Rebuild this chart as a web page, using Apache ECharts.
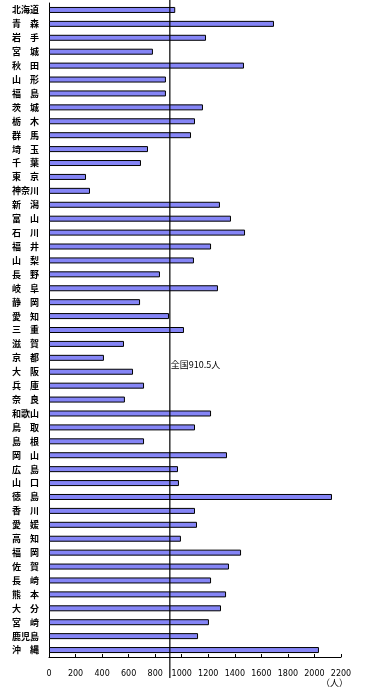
<!DOCTYPE html>
<html>
<head>
<meta charset="utf-8">
<script src="https://cdn.jsdelivr.net/npm/echarts@6/dist/echarts.min.js"></script>
<style>
  html, body { margin: 0; padding: 0; background: #fff; }
  #bar1 { width: 377px; height: 695px; }
</style>
</head>
<body>
<div id="bar1"></div>
<script>
  var prefs = ['北海道', '青　森', '岩　手', '宮　城', '秋　田', '山　形', '福　島', '茨　城', '栃　木', '群　馬',
    '埼　玉', '千　葉', '東　京', '神奈川', '新　潟', '富　山', '石　川', '福　井', '山　梨', '長　野',
    '岐　阜', '静　岡', '愛　知', '三　重', '滋　賀', '京　都', '大　阪', '兵　庫', '奈　良', '和歌山',
    '鳥　取', '島　根', '岡　山', '広　島', '山　口', '徳　島', '香　川', '愛　媛', '高　知', '福　岡',
    '佐　賀', '長　崎', '熊　本', '大　分', '宮　崎', '鹿児島', '沖　縄'];
  var people = [951, 1695, 1183, 783, 1469, 881, 881, 1160, 1100, 1070,
    746, 693, 279, 309, 1288, 1371, 1477, 1221, 1092, 836,
    1273, 686, 904, 1017, 565, 414, 633, 716, 572, 1221,
    1100, 716, 1341, 972, 979, 2132, 1100, 1115, 994, 1447,
    1356, 1221, 1334, 1296, 1205, 1123, 2034];
  var national = 910.5;
  var xTicks = [0, 200, 400, 600, 800, 1000, 1200, 1400, 1600, 1800, 2000, 2200];

  var bar1 = document.getElementById('bar1');
  var Chart_bar1 = echarts.init(bar1);
  var bar1_option;

  bar1_option = {
    animation: false,
    grid: {
      left: 49,
      right: 36,
      top: 3,
      bottom: 38
    },
    xAxis: {
      type: 'value',
      min: xTicks[0],
      max: xTicks[xTicks.length - 1],
      interval: 200,
      splitLine: { show: false },
      axisLine: { show: true, lineStyle: { color: '#000', width: 1 } },
      axisTick: { show: true, inside: true, length: 3, lineStyle: { color: '#000' } },
      axisLabel: {
        color: '#000',
        fontSize: 8,
        fontFamily: 'DejaVu Sans',
        margin: 13,
        formatter: function (v) { return String(v); }
      }
    },
    yAxis: {
      type: 'category',
      inverse: true,
      data: prefs,
      axisLine: { show: true, lineStyle: { color: '#000', width: 1 } },
      axisTick: { show: false },
      axisLabel: {
        color: '#000',
        fontSize: 9,
        fontWeight: 'bold',
        fontFamily: 'Noto Sans CJK JP',
        margin: 10,
        interval: 0
      }
    },
    series: [
      {
        type: 'bar',
        data: people,
        barWidth: 6,
        itemStyle: {
          color: '#8585f6',
          borderColor: '#000',
          borderWidth: 1
        }
      }
    ]
  };

  bar1_option && Chart_bar1.setOption(bar1_option);

  // 全国の線と注記
  var lineX = Chart_bar1.convertToPixel({ xAxisIndex: 0 }, national);
  var labelY = (Chart_bar1.convertToPixel({ yAxisIndex: 0 }, prefs[25]) +
    Chart_bar1.convertToPixel({ yAxisIndex: 0 }, prefs[26])) / 2;
  Chart_bar1.setOption({
    graphic: [
      {
        type: 'line',
        shape: { x1: lineX, y1: 0, x2: lineX, y2: 678 },
        style: { stroke: '#000', lineWidth: 1.2 },
        z: 10
      },
      {
        type: 'text',
        x: lineX + 1,
        y: labelY,
        style: {
          text: '全国910.5人',
          fill: '#000',
          font: '9px "Noto Sans CJK JP"',
          textVerticalAlign: 'middle'
        },
        z: 10
      },
      {
        type: 'text',
        x: 348,
        y: 683,
        style: {
          text: '（人）',
          fill: '#000',
          font: '9px "Noto Sans CJK JP"',
          textAlign: 'right',
          textVerticalAlign: 'middle'
        }
      }
    ]
  });
</script>
</body>
</html>
